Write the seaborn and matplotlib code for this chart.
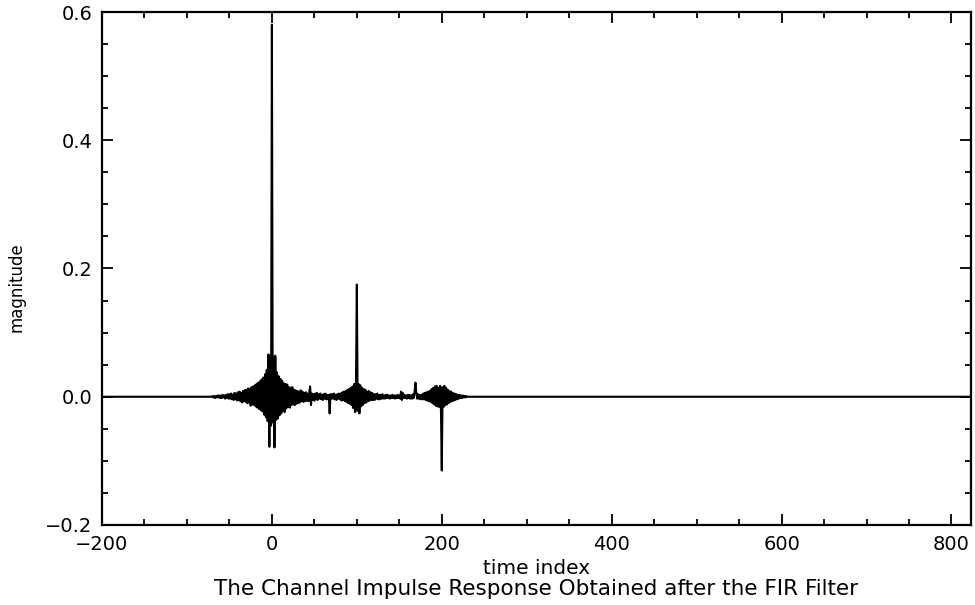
import numpy as np
import pandas as pd
import seaborn as sns
import matplotlib.pyplot as plt
from matplotlib.ticker import MultipleLocator

# time axis of the impulse response (1024 samples)
t_first = -200
t_last = 823

# non-zero part of the response, starting at t = -70 (values in 1e-3)
active_start = -70
active_milli = [
    1, -1, 1, -2, 1, -1, 2, -1, 2, -2,
    2, -2, 3, -1, 2, -3, 3, -2, 4, -3,
    4, -3, 5, -4, 3, -5, 6, -4, 5, -6,
    7, -5, 8, -7, 6, -9, 9, -7, 10, -8,
    11, -10, 13, -9, 12, -14, 15, -12, 16, -13,
    18, -15, 20, -17, 22, -19, 24, -21, 27, -23,
    30, -28, 35, -32, 42, -38, 66, -78, 60, -45,
    580,
    -40, 62, -79, 64, -36, 38, -34, 32, -29, 28,
    -26, 25, -22, 21, -24, 20, -18, 19, -16, 15,
    -17, 14, -13, 15, -12, 11, -13, 10, -11, 9,
    -10, 8, -9, 10, -7, 8, -8, 6, -7, 7,
    -6, 5, -7, 6, 16, -13, 5, -5, 4, -6,
    5, -4, 6, -5, 4, -3, 5, -4, 3, -5,
    4, -3, 5, -4, 3, -4, 3, -26, 4, -3,
    4, -3, 5, -4, 3, -5, 4, -3, 5, -4,
    5, -6, 7, -5, 8, -7, 9, -8, 11, -10,
    12, -11, 14, -13, 16, -18, 20, -24, 22,
    175,
    -22, 20, -26, 18, -15, 14, -13, 12, -10, 11,
    -9, 8, -7, 9, -6, 7, -5, 6, -5, 4,
    -5, 4, -3, 5, -4, 3, -4, 3, -3, 4,
    -3, 2, -3, 3, -2, 3, -2, 2, -3, 2,
    -2, 3, -2, 2, -3, 2, -2, 3, -2, 2,
    -3, 8, -5, 6, -2, 3, -2, 2, -3, 3,
    -2, 3, -3, 2, -3, 4, -2, 8, 22, 6,
    -3, 4, -3, 3, -4, 3, -4, 5, -4, 6,
    -5, 7, -6, 8, -7, 9, -8, 12, -10, 14,
    -12, 16, -14, 17, -15, 14, -16, 17, -20,
    -115,
    15, -16, 17, -13, 14, -12, 11, -10, 9, -8,
    8, -7, 6, -6, 5, -5, 4, -4, 3, -3,
    3, -2, 2, -2, 2, -1, 1, -1, 1, 0,
]

time_index = np.arange(t_first, t_last + 1)
magnitude = np.zeros(len(time_index))
i0 = active_start - t_first
magnitude[i0:i0 + len(active_milli)] = np.array(active_milli) / 1000.0

df = pd.DataFrame({'time index': time_index, 'magnitude': magnitude})

sns.set_style('ticks')
plt.rcParams['font.family'] = ['DejaVu Sans']
plt.rcParams['text.color'] = 'black'
plt.rcParams['axes.labelcolor'] = 'black'
plt.rcParams['xtick.color'] = 'black'
plt.rcParams['ytick.color'] = 'black'

fig = plt.figure(figsize=(9.75, 6.05), dpi=100)
ax = fig.add_axes([102 / 975, 1 - 525 / 605, (971 - 102) / 975, (525 - 12) / 605])

sns.lineplot(data=df, x='time index', y='magnitude', color='black',
             linewidth=1.5, estimator=None, sort=False, ax=ax)

ax.set_xlim(t_first, t_last)
ax.set_ylim(-0.2, 0.6)
ax.xaxis.set_major_locator(MultipleLocator(200))
ax.xaxis.set_minor_locator(MultipleLocator(50))
ax.yaxis.set_major_locator(MultipleLocator(0.2))
ax.yaxis.set_minor_locator(MultipleLocator(0.05))
ax.set_yticklabels([f'{v:.1f}'.replace('-', '\u2212') for v in ax.get_yticks()])
ax.tick_params(which='both', direction='in', top=True, right=True,
               labelsize=14, pad=7)
ax.tick_params(which='major', length=8, width=1.3)
ax.tick_params(which='minor', length=4.5, width=1.3)
for s in ax.spines.values():
    s.set_linewidth(1.6)
    s.set_color('black')

ax.set_xlabel('time index', fontsize=14.5, labelpad=4)
ax.set_ylabel('magnitude', fontsize=12)
ax.yaxis.set_label_coords(-0.088, 0.464)
fig.text((102 + 971) / 2 / 975, 1 - 589 / 605,
         'The Channel Impulse Response Obtained after the FIR Filter',
         ha='center', va='center', fontsize=15.5)

plt.savefig('out.png', dpi=100)
